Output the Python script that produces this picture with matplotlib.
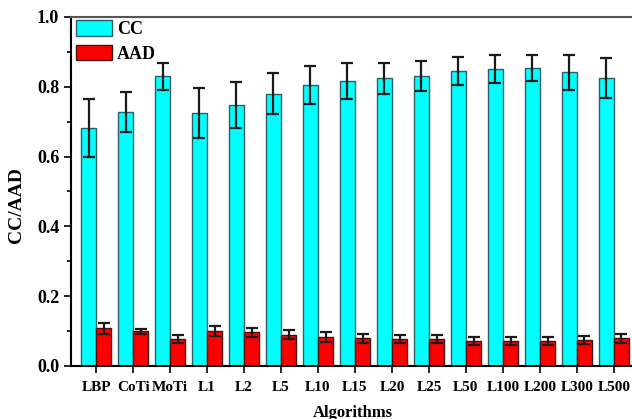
import numpy as np
import matplotlib
matplotlib.use("Agg")
import matplotlib.pyplot as plt
from matplotlib.ticker import MultipleLocator

algorithms = ["LBP", "CoTi", "MoTi", "L1", "L2", "L5", "L10", "L15", "L20",
              "L25", "L50", "L100", "L200", "L300", "L500"]
cc = [0.682, 0.728, 0.830, 0.725, 0.748, 0.780, 0.805, 0.817, 0.824,
      0.831, 0.845, 0.852, 0.854, 0.842, 0.825]
cc_err = [0.083, 0.058, 0.038, 0.071, 0.066, 0.059, 0.054, 0.052, 0.045,
          0.043, 0.040, 0.040, 0.038, 0.050, 0.057]
aad = [0.108, 0.099, 0.077, 0.101, 0.096, 0.089, 0.083, 0.080, 0.078,
       0.077, 0.072, 0.071, 0.071, 0.074, 0.080]
aad_err = [0.015, 0.008, 0.011, 0.015, 0.014, 0.013, 0.014, 0.013, 0.012,
           0.012, 0.011, 0.011, 0.011, 0.012, 0.013]

plt.rcParams["font.family"] = "Liberation Serif"
plt.rcParams["font.weight"] = "bold"

fig = plt.figure(figsize=(6.32, 4.19), dpi=100)
ax = fig.add_axes([0.1123, 0.1265, 0.90, 0.833])

x = np.arange(len(algorithms))
w = 0.41
err_kw = dict(ecolor="#1a1a1a", elinewidth=1.6, capsize=4, capthick=1.6)
ax.bar(x - w / 2, cc, w, yerr=cc_err, color="#00ffff", edgecolor="#2f5f66",
       linewidth=1.0, error_kw=err_kw, label="CC")
ax.bar(x + w / 2, aad, w, yerr=aad_err, color="#ff0000", edgecolor="#4a1010",
       linewidth=1.0, error_kw=err_kw, label="AAD")

ax.set_xlim(-0.68, 14.7)
ax.set_ylim(0, 1.0)
ax.set_xticks(x)
ax.set_xticklabels(algorithms, fontsize=11, fontweight="bold")
ax.yaxis.set_major_locator(MultipleLocator(0.2))
ax.yaxis.set_minor_locator(MultipleLocator(0.1))
ax.set_yticks(np.arange(0, 1.01, 0.2))
ax.set_yticklabels(["%.1f" % v for v in np.arange(0, 1.01, 0.2)],
                   fontsize=13, fontweight="bold")
ax.tick_params(axis="both", which="major", direction="out", length=5, width=1.2)
ax.tick_params(axis="y", which="minor", direction="out", length=3, width=1.2)
ax.tick_params(axis="x", pad=6)

ax.spines["right"].set_visible(False)
ax.spines["top"].set_color("#555555")
ax.spines["top"].set_linewidth(1.5)
ax.spines["left"].set_linewidth(1.5)
ax.spines["bottom"].set_linewidth(1.5)

ax.set_xlabel("Algorithms", fontsize=12, fontweight="bold")
ax.set_ylabel("CC/AAD", fontsize=14, fontweight="bold")
ax.xaxis.set_label_coords(0.496, -0.112)
ax.yaxis.set_label_coords(-0.081, 0.461)

ax.legend(loc="upper left", bbox_to_anchor=(0.008, 0.99), frameon=False,
          handlelength=2.0, handleheight=0.95, labelspacing=0.35,
          handletextpad=0.3, borderpad=0, borderaxespad=0,
          prop={"size": 13, "weight": "bold"})

plt.savefig("out.png", dpi=100)
